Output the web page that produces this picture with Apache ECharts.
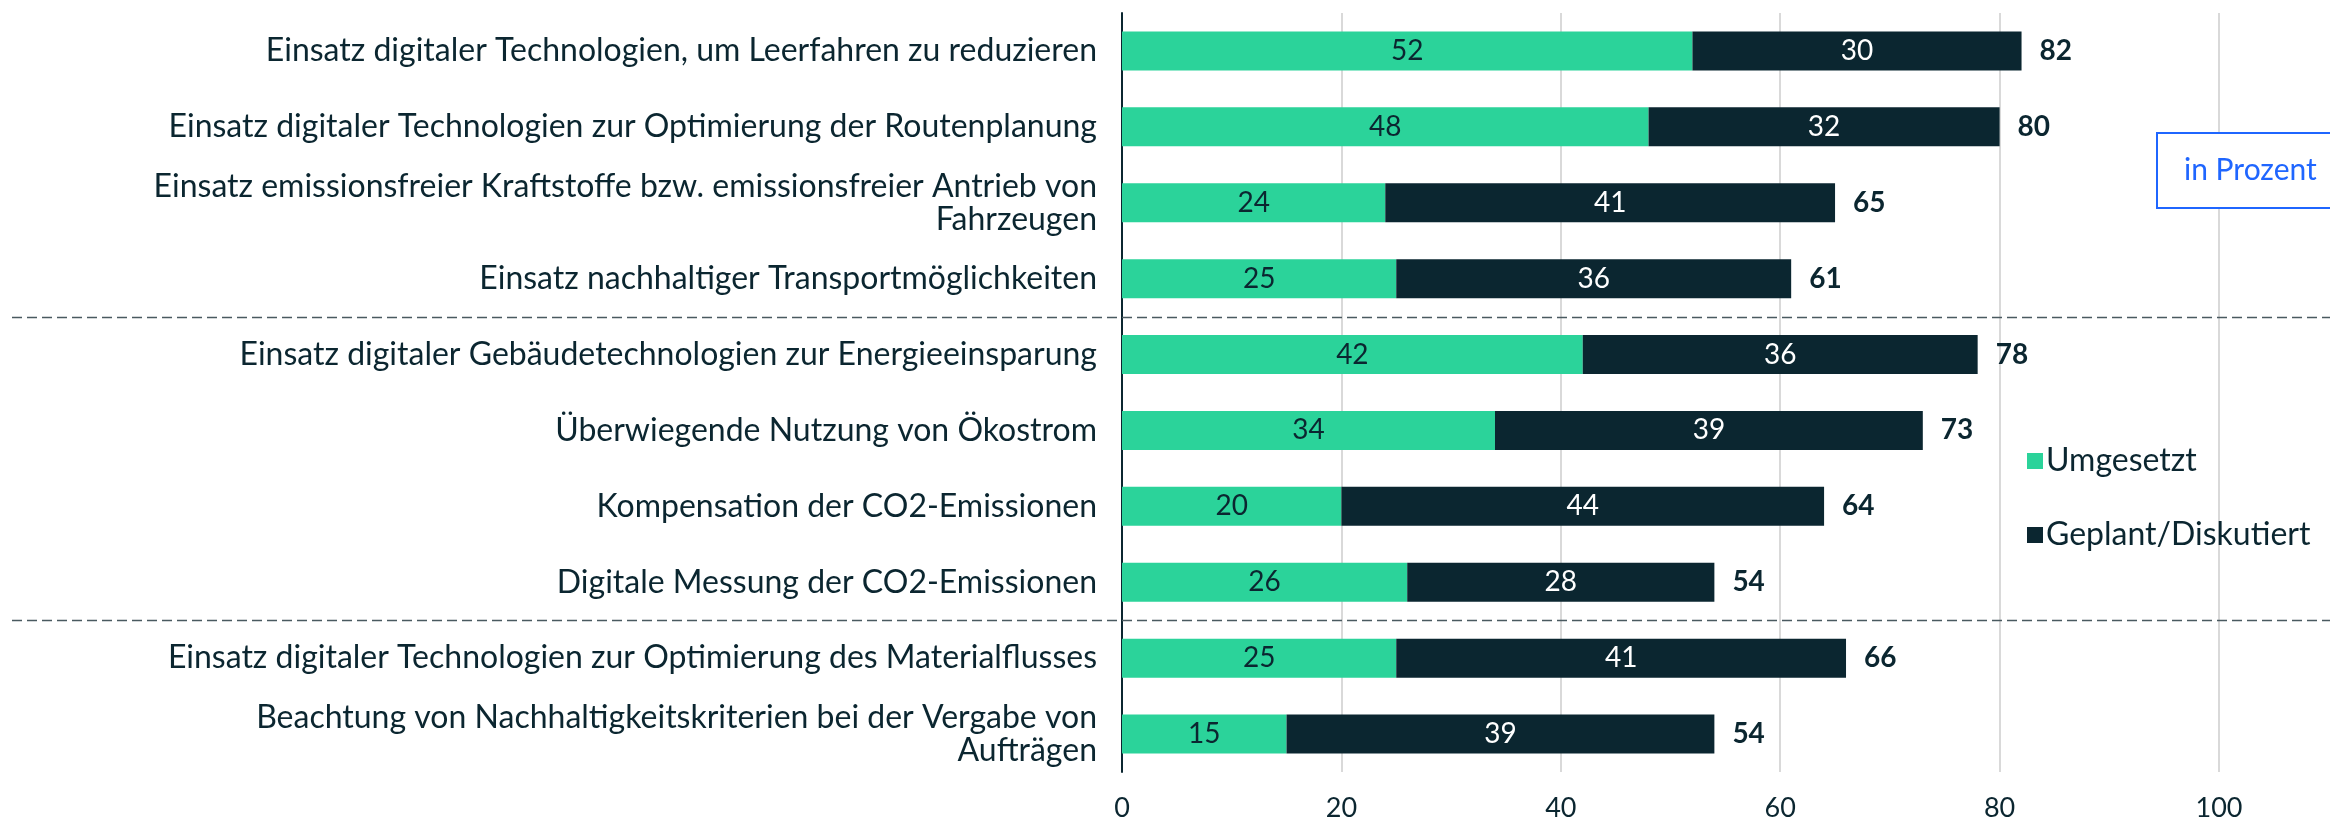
<!DOCTYPE html>
<html>
<head>
<meta charset="utf-8">
<script src="https://cdn.jsdelivr.net/npm/echarts@6/dist/echarts.min.js"></script>
<style>
  html, body { margin: 0; padding: 0; background: #fff; }
  #chart { width: 2330px; height: 822px; }
</style>
</head>
<body>
<div id="chart"></div>
<script>
// Daten
var kategorien = [
  'Einsatz digitaler Technologien, um Leerfahren zu reduzieren',
  'Einsatz digitaler Technologien zur Optimierung der Routenplanung',
  'Einsatz emissionsfreier Kraftstoffe bzw. emissionsfreier Antrieb von\nFahrzeugen',
  'Einsatz nachhaltiger Transportmöglichkeiten',
  'Einsatz digitaler Gebäudetechnologien zur Energieeinsparung',
  'Überwiegende Nutzung von Ökostrom',
  'Kompensation der CO2-Emissionen',
  'Digitale Messung der CO2-Emissionen',
  'Einsatz digitaler Technologien zur Optimierung des Materialflusses',
  'Beachtung von Nachhaltigkeitskriterien bei der Vergabe von\nAufträgen'
];
var umgesetzt = [52, 48, 24, 25, 42, 34, 20, 26, 25, 15];
var geplant   = [30, 32, 41, 36, 36, 39, 44, 28, 41, 39];
var gesamt    = [82, 80, 65, 61, 78, 73, 64, 54, 66, 54];
var xTicks    = [0, 20, 40, 60, 80, 100];
// Trennlinien nach diesen Kategorien (Index)
var trenner   = [3, 7];

var gruen = '#2bd39a';
var dunkel = '#0b2630';
var schrift = 'Lato, "Noto Sans", sans-serif';

var chart = echarts.init(document.getElementById('chart'));

var option = {
  animation: false,
  textStyle: { fontFamily: schrift, color: dunkel },
  grid: { left: 1122, right: 111, top: 13, bottom: 49 },
  legend: {
    orient: 'vertical',
    left: 2022,
    top: 440,
    itemWidth: 16,
    itemHeight: 16,
    itemGap: 42,
    icon: 'rect',
    data: ['Umgesetzt', 'Geplant/Diskutiert'],
    textStyle: { fontSize: 32, color: dunkel, fontFamily: schrift, padding: [0, 0, 0, -2] }
  },
  xAxis: {
    type: 'value',
    min: xTicks[0],
    max: xTicks[xTicks.length - 1],
    interval: 20,
    axisLine: { show: false },
    axisTick: { show: false },
    axisLabel: { fontSize: 27, color: dunkel, margin: 23 },
    splitLine: { lineStyle: { color: '#d9d9d9', width: 2 } }
  },
  yAxis: {
    type: 'category',
    inverse: true,
    data: kategorien,
    axisTick: { show: false },
    axisLine: { lineStyle: { color: dunkel, width: 2 } },
    axisLabel: { fontSize: 32, color: dunkel, margin: 25, lineHeight: 33, align: 'right' }
  },
  series: [
    {
      name: 'Umgesetzt',
      type: 'bar',
      stack: 'gesamt',
      barWidth: 39,
      data: umgesetzt,
      itemStyle: { color: gruen },
      label: { show: true, position: 'inside', fontSize: 28, color: dunkel }
    },
    {
      name: 'Geplant/Diskutiert',
      type: 'bar',
      stack: 'gesamt',
      barWidth: 39,
      data: geplant,
      itemStyle: { color: dunkel },
      label: { show: true, position: 'inside', fontSize: 28, color: '#ffffff' }
    },
    {
      name: 'Summe',
      type: 'scatter',
      symbolSize: 0,
      itemStyle: { opacity: 1 },
      data: gesamt.map(function (v, i) { return [v, i]; }),
      label: {
        show: true,
        position: 'right',
        distance: 18,
        fontSize: 28,
        fontWeight: 'bold',
        color: dunkel,
        opacity: 1,
        formatter: function (p) { return p.value[0]; }
      },
      silent: true
    }
  ]
};

chart.setOption(option);

// Trennlinien und Hinweis-Box
var grafik = trenner.map(function (i) {
  var y1 = chart.convertToPixel({ yAxisIndex: 0 }, i);
  var y2 = chart.convertToPixel({ yAxisIndex: 0 }, i + 1);
  var y = Math.round((y1 + y2) / 2) + 0.5;
  return {
    type: 'line',
    shape: { x1: 12, y1: y, x2: 2330, y2: y },
    style: { stroke: '#4a5a60', lineWidth: 1.5, lineDash: [10, 5] },
    z: 10
  };
});
grafik.push({
  type: 'group',
  left: 2156,
  top: 132,
  children: [
    {
      type: 'rect',
      shape: { x: 0, y: 0, width: 190, height: 75 },
      style: { fill: '#ffffff', stroke: '#1f66ff', lineWidth: 2 }
    },
    {
      type: 'text',
      x: 27,
      y: 37,
      style: { text: 'in Prozent', font: '30px ' + schrift, fill: '#1f66ff', verticalAlign: 'middle' }
    }
  ],
  z: 20
});
chart.setOption({ graphic: grafik });

window.addEventListener('resize', function () {
  chart.resize();
});
</script>
</body>
</html>
